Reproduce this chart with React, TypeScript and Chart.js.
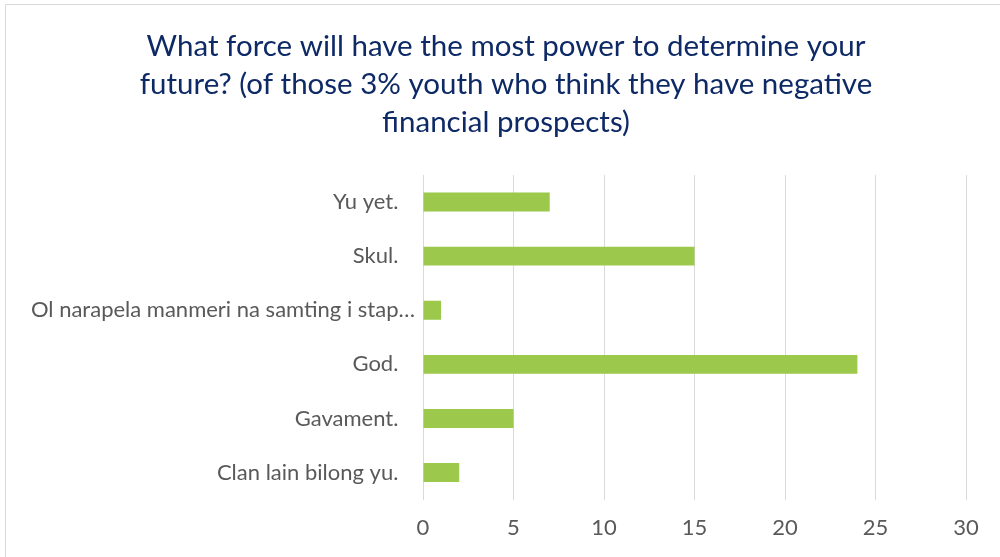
import React, { useEffect, useRef } from "react";
import { Chart, registerables } from "chart.js";

Chart.register(...registerables);

const categories = [
  "Yu yet.",
  "Skul.",
  "Ol narapela manmeri na samting i stap…",
  "God.",
  "Gavament.",
  "Clan lain bilong yu.",
];
const values = [7, 15, 1, 24, 5, 2];
const titleLines = [
  "What force will have the most power to determine your",
  "future? (of those 3% youth who think they have negative",
  "financial prospects)",
];
const xMin = 0;
const xMax = 30;
const xStep = 5;

const FONT = "Lato, 'Open Sans', sans-serif";

const framePlugin = {
  id: "frame",
  beforeDraw(chart: any) {
    const ctx = chart.ctx;
    ctx.save();
    ctx.fillStyle = "#ffffff";
    ctx.fillRect(0, 0, chart.width, chart.height);
    ctx.strokeStyle = "#d9d9d9";
    ctx.lineWidth = 1;
    ctx.beginPath();
    ctx.moveTo(5.5, chart.height + 2);
    ctx.lineTo(5.5, 4.5);
    ctx.lineTo(chart.width + 2, 4.5);
    ctx.stroke();
    ctx.restore();
  },
};

export default function App() {
  const ref = useRef<HTMLCanvasElement | null>(null);
  useEffect(() => {
    if (!ref.current) return;
    const chart = new Chart(ref.current, {
      type: "bar",
      data: {
        labels: categories,
        datasets: [
          {
            data: values,
            backgroundColor: "#9cc84b",
            borderWidth: 0,
            categoryPercentage: 1,
            barPercentage: 0.35,
          },
        ],
      },
      options: {
        indexAxis: "y",
        responsive: false,
        animation: false,
        layout: { padding: { left: 12, right: 0, top: 0, bottom: 1 } },
        plugins: {
          legend: { display: false },
          tooltip: { enabled: false },
          title: {
            display: true,
            text: titleLines,
            color: "#0e2a66",
            font: { family: FONT, size: 29.5, weight: "normal", lineHeight: "38px" as any },
            padding: { top: 27, bottom: 34 },
          },
        },
        scales: {
          x: {
            min: xMin,
            max: xMax,
            ticks: {
              stepSize: xStep,
              color: "#595959",
              font: { family: FONT, size: 22 },
              padding: 15,
            },
            grid: { color: "#d9d9d9", lineWidth: 1, drawTicks: false },
            border: { display: false },
            afterFit: (scale: any) => {
              scale.paddingRight = 34;
            },
          },
          y: {
            ticks: {
              color: "#595959",
              font: { family: FONT, size: 22 },
              padding: 8,
              autoSkip: false,
              callback: function (this: any, v: any) {
                const s = this.getLabelForValue(v) as string;
                return s.endsWith("…") ? s : s + "\u2002 ";
              },
            },
            grid: { display: false, drawTicks: false },
            border: { display: false },
            afterFit: (scale: any) => {
              scale.width = 411;
            },
          },
        },
      },
      plugins: [framePlugin],
    });
    return () => chart.destroy();
  }, []);
  return (
    <div style={{ position: "absolute", left: 0, top: 0, width: 1000, height: 557 }}>
      <canvas ref={ref} width={1000} height={557} />
    </div>
  );
}
